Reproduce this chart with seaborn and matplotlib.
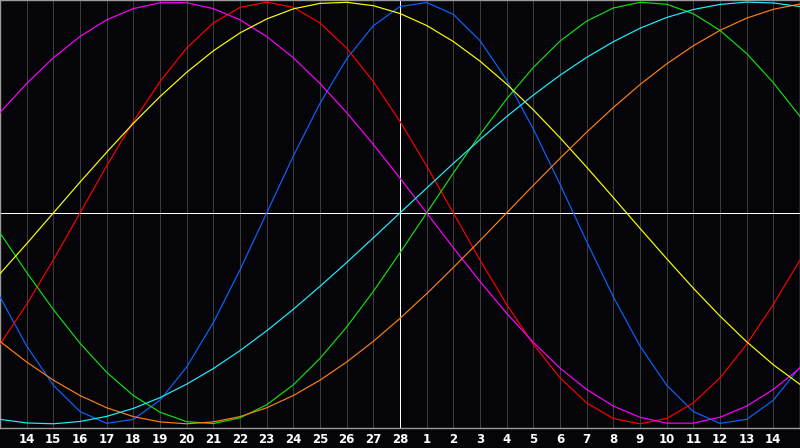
import numpy as np
import pandas as pd
import matplotlib
matplotlib.use('Agg')
import matplotlib.pyplot as plt
import seaborn as sns

# day offsets from the marked day (the "28" line)
days = list(range(-15, 16))
day_labels = [str(v) for v in list(range(14, 29)) + list(range(1, 15))]

# values at every day gridline, -1 .. 1
physical = [-0.398, -0.631, -0.817, -0.942, -0.998, -0.979, -0.888, -0.731, -0.520, -0.270,
            0.000, 0.270, 0.520, 0.731, 0.888, 0.979, 0.998, 0.942, 0.817, 0.631,
            0.398, 0.136, -0.136, -0.398, -0.631, -0.817, -0.942, -0.998, -0.979, -0.888,
            -0.731]
emotional = [-0.623, -0.434, -0.223, 0.000, 0.223, 0.434, 0.623, 0.782, 0.901, 0.975,
             1.000, 0.975, 0.901, 0.782, 0.623, 0.434, 0.223, 0.000, -0.223, -0.434,
             -0.623, -0.782, -0.901, -0.975, -1.000, -0.975, -0.901, -0.782, -0.623, -0.434,
             -0.223]
intellectual = [-0.095, -0.282, -0.458, -0.618, -0.756, -0.866, -0.945, -0.990, -0.999, -0.972,
                -0.910, -0.815, -0.690, -0.541, -0.372, -0.189, 0.000, 0.189, 0.372, 0.541,
                0.690, 0.815, 0.910, 0.972, 0.999, 0.990, 0.945, 0.866, 0.756, 0.618,
                0.458]
intuitive = [0.476, 0.614, 0.736, 0.837, 0.916, 0.969, 0.997, 0.997, 0.969, 0.916,
             0.837, 0.736, 0.614, 0.476, 0.325, 0.165, 0.000, -0.165, -0.325, -0.476,
             -0.614, -0.736, -0.837, -0.916, -0.969, -0.997, -0.997, -0.969, -0.916, -0.837,
             -0.736]
aesthetic = [-0.288, -0.146, 0.000, 0.146, 0.288, 0.425, 0.552, 0.667, 0.769, 0.854,
             0.920, 0.968, 0.994, 0.999, 0.983, 0.946, 0.889, 0.813, 0.720, 0.611,
             0.489, 0.357, 0.217, 0.073, -0.073, -0.217, -0.357, -0.489, -0.611, -0.720,
             -0.813]
awareness = [-0.609, -0.707, -0.793, -0.866, -0.924, -0.966, -0.991, -1.000, -0.991, -0.966,
             -0.924, -0.866, -0.793, -0.707, -0.609, -0.500, -0.383, -0.259, -0.131, 0.000,
             0.131, 0.259, 0.383, 0.500, 0.609, 0.707, 0.793, 0.866, 0.924, 0.966,
             0.991]
spiritual = [-0.979, -0.996, -1.000, -0.989, -0.965, -0.927, -0.876, -0.812, -0.738, -0.653,
             -0.559, -0.457, -0.348, -0.235, -0.118, 0.000, 0.118, 0.235, 0.348, 0.457,
             0.559, 0.653, 0.738, 0.812, 0.876, 0.927, 0.965, 0.989, 1.000, 0.996,
             0.979]

series = {
    'physical': physical,
    'emotional': emotional,
    'intellectual': intellectual,
    'intuitive': intuitive,
    'aesthetic': aesthetic,
    'awareness': awareness,
    'spiritual': spiritual,
}
colors = {
    'physical': '#0a64ff',
    'emotional': '#ff0000',
    'intellectual': '#10e010',
    'intuitive': '#ff00ff',
    'aesthetic': '#ffff00',
    'awareness': '#ff8010',
    'spiritual': '#20f0ff',
}

d = pd.DataFrame({'day': days, **series}).melt(id_vars='day', var_name='cycle', value_name='value')

bg = '#050509'
fig = plt.figure(figsize=(8, 4.48), dpi=100, facecolor=bg)
ax = fig.add_axes([0.0, 20 / 448, 1.0, 428 / 448])
ax.set_facecolor(bg)

# day gridlines
for x in range(-14, 15):
    ax.axvline(x, color='#3c3c3c', lw=0.55, zorder=1, antialiased=False)

sns.lineplot(data=d, x='day', y='value', hue='cycle', palette=colors,
             linewidth=0.85, legend=False, ax=ax, zorder=3)

ax.axhline(0, color='white', lw=0.55, zorder=2, antialiased=False)
ax.axvline(0, color='white', lw=0.55, zorder=2, antialiased=False)

ax.set_xlim(-15, 15)
ax.set_ylim(-1.02, 1.01)
ax.set_xticks(range(-14, 15))
ax.set_xticklabels(day_labels, color='white', fontsize=8.5, fontweight='bold',
                   family='DejaVu Sans')
ax.tick_params(axis='x', length=0, pad=3.5)
ax.set_yticks([])
ax.set_xlabel('')
ax.set_ylabel('')
for s in ax.spines.values():
    s.set_color('#9a9a9a')
    s.set_linewidth(1.0)

fig.savefig('out.png', dpi=100, facecolor=bg)
